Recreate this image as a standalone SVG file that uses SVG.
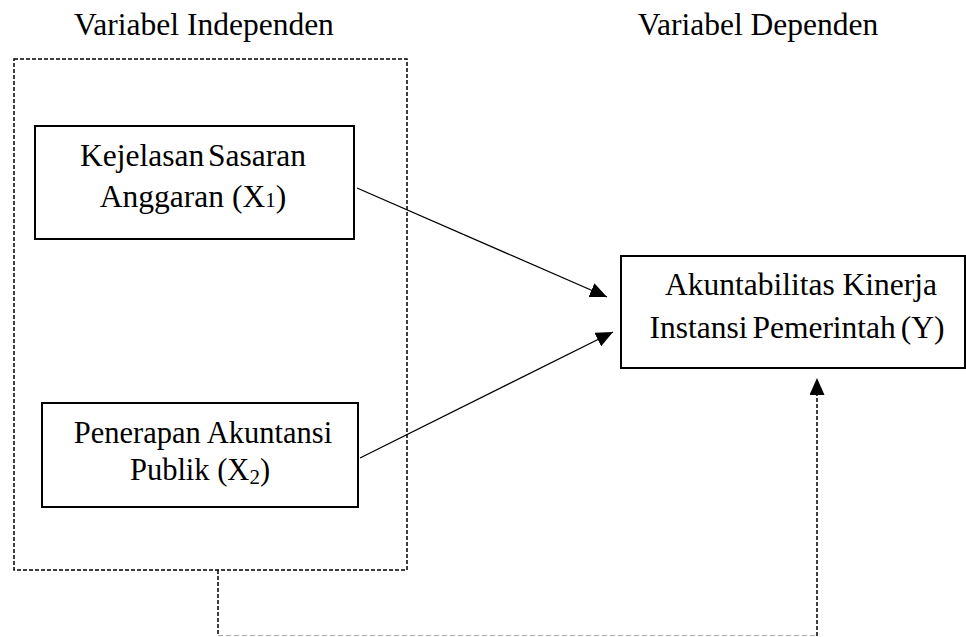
<svg xmlns="http://www.w3.org/2000/svg" width="966" height="637" viewBox="0 0 966 637">
<defs>
<style>
text{font-family:"Liberation Serif","Times New Roman",serif;font-size:31.5px;fill:#000;text-anchor:middle}
.box{fill:#fff;stroke:#000;stroke-width:2}
.grp{fill:none;stroke:#000;stroke-width:1.5;stroke-dasharray:4 2}
.edge{fill:none;stroke:#000;stroke-width:1.3}
.sub{font-size:21px}
.b2{font-size:30.5px}
</style>
<marker id="ah" viewBox="0 0 10 10" refX="10" refY="5" markerWidth="17" markerHeight="15" markerUnits="userSpaceOnUse" orient="auto" preserveAspectRatio="none">
<path d="M0,0 L10,5 L0,10 z" fill="#000"/>
</marker>
</defs>
<g id="labels">
<text x="204" y="35">Variabel Independen</text>
<text x="758" y="35">Variabel Dependen</text>
</g>
<g id="group-independen">
<rect class="grp" x="14" y="59" width="393" height="511"/>
</g>
<g id="node-x1">
<rect class="box" x="35" y="126" width="319" height="113"/>
<text x="193" y="166" word-spacing="-4">Kejelasan Sasaran</text>
<text x="193" y="207">Anggaran (X<tspan class="sub">1</tspan>)</text>
</g>
<g id="node-x2">
<rect class="box" x="42" y="403" width="316" height="104"/>
<text class="b2" x="203" y="443">Penerapan Akuntansi</text>
<text class="b2" x="200" y="480">Publik (X<tspan class="sub" dy="4">2</tspan><tspan dy="-4">)</tspan></text>
</g>
<g id="node-y">
<rect class="box" x="621" y="256" width="344" height="112"/>
<text x="801" y="295">Akuntabilitas Kinerja</text>
<text x="797" y="338" word-spacing="-3">Instansi Pemerintah (Y)</text>
</g>
<g id="connectors">
<line class="edge" x1="357" y1="188" x2="607" y2="297" marker-end="url(#ah)"/>
<line class="edge" x1="360" y1="458" x2="613" y2="332" marker-end="url(#ah)"/>
<line x1="218" y1="570" x2="218" y2="636" stroke="#000" stroke-width="1.5" stroke-dasharray="4 2"/>
<line x1="218" y1="635.5" x2="817" y2="635.5" stroke="#aaa" stroke-width="1.2" stroke-dasharray="5 3"/>
<line x1="817" y1="636" x2="817" y2="378" stroke="#000" stroke-width="1.5" stroke-dasharray="4 2" marker-end="url(#ah)"/>
</g>
</svg>
